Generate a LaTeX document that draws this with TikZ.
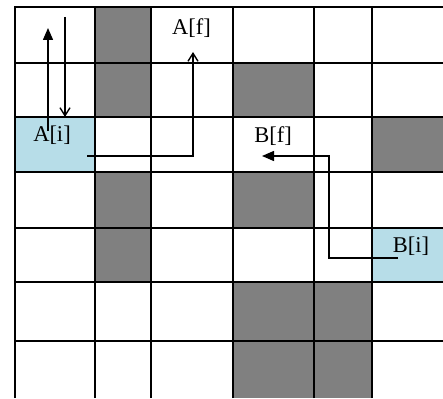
\documentclass[tikz,border=0pt]{standalone}
\usepackage{fontspec}
\setmainfont{Liberation Serif}
\usetikzlibrary{arrows.meta}
\definecolor{cellgray}{HTML}{808080}
\definecolor{cellblue}{HTML}{B7DDE8}
\begin{document}
\begin{tikzpicture}[x=1pt,y=1pt,
  gridline/.style={line width=1.8pt},
  boldline/.style={line width=2.7pt},
  wall/.style={fill=cellgray},
  endpoint/.style={fill=cellblue},
  label/.style={anchor=base,inner sep=0pt,font=\fontsize{22.5}{26}\selectfont},
  route/.style={line width=1.4pt},
  solidtip/.style={-{Triangle[length=12pt,width=10pt]}},
  opentip/.style={-{Straight Barb[length=8pt,width=10pt,line width=1.4pt]}}]
\useasboundingbox (0,0) rectangle (443,398);
% obstacle cells
\fill[wall] (95,281) rectangle (151,391);
\fill[wall] (95,116) rectangle (151,226);
\fill[wall] (233,281) rectangle (314,335);
\fill[wall] (233,170) rectangle (314,226);
\fill[wall] (233,0) rectangle (372,116);
\fill[wall] (372,226) rectangle (443,281);
% start cells
\fill[endpoint] (15,226) rectangle (95,281);
\fill[endpoint] (372,116) rectangle (443,170);
% grid
\foreach \y in {391,335,226,170,116}
  \draw[gridline] (15,\y) -- (443,\y);
\foreach \y in {281,57}
  \draw[boldline] (15,\y) -- (443,\y);
\foreach \x in {95,151,233,314,372}
  \draw[gridline] (\x,0) -- (\x,391);
\draw[boldline] (15,0) -- (15,392);
% labels
\node[label] (ai) at (52,256) {A[i]};
\node[label] (af) at (191.5,363) {A[f]};
\node[label] (bf) at (273,255) {B[f]};
\node[label] (bi) at (411,145) {B[i]};
% route ends and corners
\coordinate (upS) at (48,267);
\coordinate (upE) at (48,370);
\coordinate (dnS) at (65,381);
\coordinate (dnE) at (65,281);
\coordinate (aS) at (87,242);
\coordinate (aC) at (193,242);
\coordinate (aE) at (193,346);
\coordinate (bS) at (398,140);
\coordinate (bC1) at (329,140);
\coordinate (bC2) at (329,242);
\coordinate (bE) at (262,242);
% routes
\draw[route,solidtip] (upS) -- (upE);
\draw[route,opentip] (dnS) -- (dnE);
\draw[route,opentip] (aS) -- (aC) -- (aE);
\draw[route,solidtip] (bS) -- (bC1) -- (bC2) -- (bE);
\end{tikzpicture}
\end{document}
